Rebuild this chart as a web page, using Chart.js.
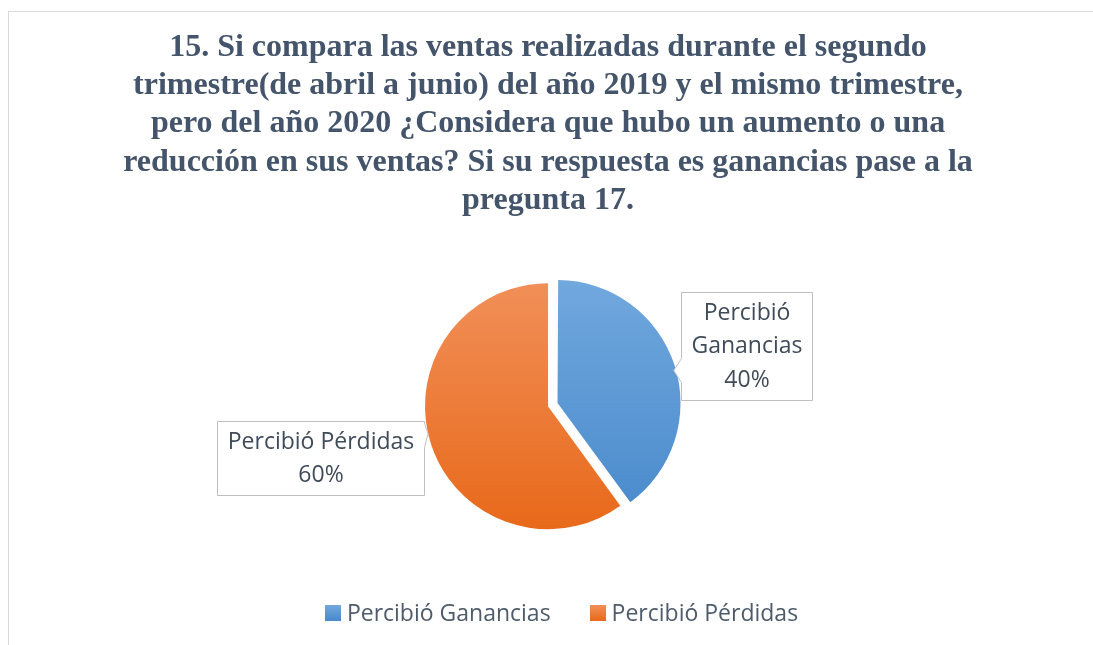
<!DOCTYPE html>
<html>
<head>
<meta charset="utf-8">
<script src="https://cdn.jsdelivr.net/npm/chart.js@4/dist/chart.umd.min.js"></script>
<style>
  html, body { margin: 0; padding: 0; background: #fff; overflow: hidden; }
  #frame { position: absolute; left: 8px; top: 11px; width: 1200px; height: 800px; border: 1px solid #d9d9d9; }
  #wrap { position: absolute; left: 0; top: 0; width: 1093px; height: 645px; }
</style>
</head>
<body>
<div id="frame"></div>
<div id="wrap"><canvas id="pieChart"></canvas></div>
<script>
// data
const categories = ['Percibió Ganancias', 'Percibió Pérdidas'];
const percentValues = [40, 60];
const titleLines = [
  '15. Si compara las ventas realizadas durante el segundo',
  'trimestre(de abril a junio) del año 2019 y el mismo trimestre,',
  'pero del año 2020 ¿Considera que hubo un aumento o una',
  'reducción en sus ventas? Si su respuesta es ganancias pase a la',
  'pregunta 17.'
];

// colours: top / bottom of each slice gradient
const sliceTop = ['#71a8de', '#f18f58'];
const sliceBottom = ['#4889cb', '#e8691a'];
const PIE_R = 123;
const TEXT_FONT = '23px "Open Sans"';

function sliceFill(ctx) {
  const chart = ctx.chart;
  const area = chart.chartArea;
  const i = ctx.dataIndex;
  if (!area) return sliceBottom[i];
  const cy = (area.top + area.bottom) / 2;
  const g = chart.ctx.createLinearGradient(0, cy - PIE_R, 0, cy + PIE_R);
  g.addColorStop(0, sliceTop[i]);
  g.addColorStop(1, sliceBottom[i]);
  return g;
}

// callout boxes: offset of box centre from pie centre, wrap width
const calloutPos = [
  { dx: 198, dy: -60, wrap: 130 },
  { dx: -228, dy: 52, wrap: 260 }
];

function wrapText(ctx, text, maxW) {
  const words = text.split(' ');
  const lines = [];
  let cur = '';
  words.forEach(w => {
    const t = cur ? cur + ' ' + w : w;
    if (ctx.measureText(t).width > maxW && cur) {
      lines.push(cur);
      cur = w;
    } else {
      cur = t;
    }
  });
  if (cur) lines.push(cur);
  return lines;
}

// chart.js grows an offset slice's radius a little; keep the exploded slice at the same size
const keepRadius = {
  id: 'keepRadius',
  beforeDatasetsDraw(chart) {
    chart.getDatasetMeta(0).data.forEach(arc => {
      const off = (arc.options.offset || 0) / 4;
      const fix = 1 - Math.sin(Math.min(Math.PI, arc.circumference));
      arc._fullR = arc.outerRadius;
      arc.outerRadius -= off * fix;
    });
  },
  afterDatasetsDraw(chart) {
    chart.getDatasetMeta(0).data.forEach(arc => {
      arc.outerRadius = arc._fullR;
    });
  }
};

const calloutPlugin = {
  id: 'callouts',
  afterDatasetsDraw(chart) {
    const ctx = chart.ctx;
    const meta = chart.getDatasetMeta(0);
    ctx.save();
    ctx.font = TEXT_FONT;
    meta.data.forEach((arc, i) => {
      const p = calloutPos[i];
      const lines = wrapText(ctx, categories[i], p.wrap);
      lines.push(percentValues[i] + '%');
      const lh = 33.5;
      let w = 0;
      lines.forEach(l => { w = Math.max(w, ctx.measureText(l).width); });
      const bw = Math.round(w + 20), bh = Math.round(lines.length * lh + 7);
      const cx = arc.x + p.dx, cy = arc.y + p.dy;
      const left = Math.round(cx - bw / 2) + 0.5, top = Math.round(cy - bh / 2) + 0.5;
      // tip of the pointer: on the slice edge, toward the box
      const vx = cx - arc.x, vy = cy - arc.y;
      const len = Math.hypot(vx, vy);
      const tx = arc.x + vx / len * arc.outerRadius + (i === 0 ? 8 : 0);
      const ty = arc.y + vy / len * arc.outerRadius;
      const ny = Math.min(Math.max(ty, top + 14), top + bh - 14);
      ctx.beginPath();
      ctx.moveTo(left, top);
      if (tx > left + bw) {
        ctx.lineTo(left + bw, top);
        ctx.lineTo(left + bw, ny - 12);
        ctx.lineTo(tx, ty);
        ctx.lineTo(left + bw, ny + 12);
        ctx.lineTo(left + bw, top + bh);
        ctx.lineTo(left, top + bh);
      } else {
        ctx.lineTo(left + bw, top);
        ctx.lineTo(left + bw, top + bh);
        ctx.lineTo(left, top + bh);
        ctx.lineTo(left, ny + 12);
        ctx.lineTo(tx, ty);
        ctx.lineTo(left, ny - 12);
      }
      ctx.closePath();
      ctx.fillStyle = '#ffffff';
      ctx.fill();
      ctx.strokeStyle = '#bfbfbf';
      ctx.lineWidth = 1;
      ctx.stroke();
      ctx.fillStyle = '#404b5a';
      ctx.textAlign = 'center';
      ctx.textBaseline = 'middle';
      lines.forEach((l, k) => {
        ctx.fillText(l, left + bw / 2, top + 4 + lh * (k + 0.5));
      });
    });
    ctx.restore();
  }
};

// legend drawn under the pie, box + text per category
const legendPlugin = {
  id: 'bottomLegend',
  afterDraw(chart) {
    const ctx = chart.ctx;
    ctx.save();
    ctx.font = TEXT_FONT;
    const box = 16, gapText = 6, gapItem = 39, midX = 561.5, midY = 613;
    const widths = categories.map(c => box + gapText + ctx.measureText(c).width);
    const total = widths.reduce((a, b) => a + b, 0) + gapItem * (categories.length - 1);
    let x = midX - total / 2;
    categories.forEach((c, i) => {
      const g = ctx.createLinearGradient(0, midY - box / 2, 0, midY + box / 2);
      g.addColorStop(0, sliceTop[i]);
      g.addColorStop(1, sliceBottom[i]);
      ctx.fillStyle = g;
      ctx.fillRect(Math.round(x), midY - box / 2, box, box);
      ctx.fillStyle = '#4e5b6b';
      ctx.textAlign = 'left';
      ctx.textBaseline = 'middle';
      ctx.fillText(c, x + box + gapText, midY + 1);
      x += widths[i] + gapItem;
    });
    ctx.restore();
  }
};

new Chart(document.getElementById('pieChart'), {
  type: 'pie',
  data: {
    labels: categories,
    datasets: [{
      data: percentValues,
      backgroundColor: sliceFill,
      borderWidth: 0,
      offset: [40, 0],
      radius: PIE_R
    }]
  },
  options: {
    responsive: true,
    maintainAspectRatio: false,
    animation: false,
    events: [],
    layout: { padding: { left: 3, right: 0, top: 0, bottom: 62 } },
    plugins: {
      title: {
        display: true,
        text: titleLines,
        color: '#44546a',
        font: { family: '"Liberation Serif", "Times New Roman", serif', size: 32, weight: 'bold', lineHeight: 1.19 },
        padding: { top: 29, bottom: 10 }
      },
      legend: { display: false },
      tooltip: { enabled: false }
    }
  },
  plugins: [keepRadius, calloutPlugin, legendPlugin]
});
</script>
</body>
</html>
